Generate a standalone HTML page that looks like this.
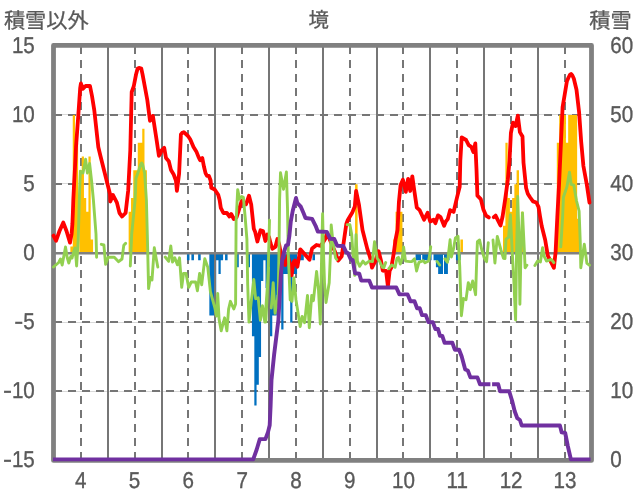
<!DOCTYPE html><html><head><meta charset="utf-8"><title>chart</title><style>html,body{margin:0;padding:0;background:#fff;overflow:hidden}svg{display:block;will-change:transform}text{text-rendering:geometricPrecision;stroke:#595959;stroke-width:0.35px;font-family:"Liberation Sans",sans-serif;font-size:22.9px;fill:#595959}</style></head><body>
<svg width="636" height="501" viewBox="0 0 636 501">
<rect width="636" height="501" fill="#fff"/>
<g shape-rendering="crispEdges"><rect x="54" y="114" width="537" height="1" fill="#d9d9d9"/><rect x="54" y="183" width="537" height="1" fill="#d9d9d9"/><rect x="54" y="322" width="537" height="1" fill="#d9d9d9"/><rect x="54" y="391" width="537" height="1" fill="#d9d9d9"/><path d="M80 46h2v8h-2zM80 60h2v8h-2zM80 74h2v8h-2zM80 88h2v8h-2zM80 102h2v8h-2zM80 116h2v8h-2zM80 130h2v8h-2zM80 144h2v8h-2zM80 158h2v8h-2zM80 172h2v8h-2zM80 186h2v8h-2zM80 200h2v8h-2zM80 214h2v8h-2zM80 228h2v8h-2zM80 242h2v8h-2zM80 256h2v8h-2zM80 270h2v8h-2zM80 284h2v8h-2zM80 298h2v8h-2zM80 312h2v8h-2zM80 326h2v8h-2zM80 340h2v8h-2zM80 354h2v8h-2zM80 368h2v8h-2zM80 382h2v8h-2zM80 396h2v8h-2zM80 410h2v8h-2zM80 424h2v8h-2zM80 438h2v8h-2zM80 452h2v6h-2zM134 46h2v8h-2zM134 60h2v8h-2zM134 74h2v8h-2zM134 88h2v8h-2zM134 102h2v8h-2zM134 116h2v8h-2zM134 130h2v8h-2zM134 144h2v8h-2zM134 158h2v8h-2zM134 172h2v8h-2zM134 186h2v8h-2zM134 200h2v8h-2zM134 214h2v8h-2zM134 228h2v8h-2zM134 242h2v8h-2zM134 256h2v8h-2zM134 270h2v8h-2zM134 284h2v8h-2zM134 298h2v8h-2zM134 312h2v8h-2zM134 326h2v8h-2zM134 340h2v8h-2zM134 354h2v8h-2zM134 368h2v8h-2zM134 382h2v8h-2zM134 396h2v8h-2zM134 410h2v8h-2zM134 424h2v8h-2zM134 438h2v8h-2zM134 452h2v6h-2zM187 46h2v8h-2zM187 60h2v8h-2zM187 74h2v8h-2zM187 88h2v8h-2zM187 102h2v8h-2zM187 116h2v8h-2zM187 130h2v8h-2zM187 144h2v8h-2zM187 158h2v8h-2zM187 172h2v8h-2zM187 186h2v8h-2zM187 200h2v8h-2zM187 214h2v8h-2zM187 228h2v8h-2zM187 242h2v8h-2zM187 256h2v8h-2zM187 270h2v8h-2zM187 284h2v8h-2zM187 298h2v8h-2zM187 312h2v8h-2zM187 326h2v8h-2zM187 340h2v8h-2zM187 354h2v8h-2zM187 368h2v8h-2zM187 382h2v8h-2zM187 396h2v8h-2zM187 410h2v8h-2zM187 424h2v8h-2zM187 438h2v8h-2zM187 452h2v6h-2zM241 46h2v8h-2zM241 60h2v8h-2zM241 74h2v8h-2zM241 88h2v8h-2zM241 102h2v8h-2zM241 116h2v8h-2zM241 130h2v8h-2zM241 144h2v8h-2zM241 158h2v8h-2zM241 172h2v8h-2zM241 186h2v8h-2zM241 200h2v8h-2zM241 214h2v8h-2zM241 228h2v8h-2zM241 242h2v8h-2zM241 256h2v8h-2zM241 270h2v8h-2zM241 284h2v8h-2zM241 298h2v8h-2zM241 312h2v8h-2zM241 326h2v8h-2zM241 340h2v8h-2zM241 354h2v8h-2zM241 368h2v8h-2zM241 382h2v8h-2zM241 396h2v8h-2zM241 410h2v8h-2zM241 424h2v8h-2zM241 438h2v8h-2zM241 452h2v6h-2zM295 46h2v8h-2zM295 60h2v8h-2zM295 74h2v8h-2zM295 88h2v8h-2zM295 102h2v8h-2zM295 116h2v8h-2zM295 130h2v8h-2zM295 144h2v8h-2zM295 158h2v8h-2zM295 172h2v8h-2zM295 186h2v8h-2zM295 200h2v8h-2zM295 214h2v8h-2zM295 228h2v8h-2zM295 242h2v8h-2zM295 256h2v8h-2zM295 270h2v8h-2zM295 284h2v8h-2zM295 298h2v8h-2zM295 312h2v8h-2zM295 326h2v8h-2zM295 340h2v8h-2zM295 354h2v8h-2zM295 368h2v8h-2zM295 382h2v8h-2zM295 396h2v8h-2zM295 410h2v8h-2zM295 424h2v8h-2zM295 438h2v8h-2zM295 452h2v6h-2zM349 46h2v8h-2zM349 60h2v8h-2zM349 74h2v8h-2zM349 88h2v8h-2zM349 102h2v8h-2zM349 116h2v8h-2zM349 130h2v8h-2zM349 144h2v8h-2zM349 158h2v8h-2zM349 172h2v8h-2zM349 186h2v8h-2zM349 200h2v8h-2zM349 214h2v8h-2zM349 228h2v8h-2zM349 242h2v8h-2zM349 256h2v8h-2zM349 270h2v8h-2zM349 284h2v8h-2zM349 298h2v8h-2zM349 312h2v8h-2zM349 326h2v8h-2zM349 340h2v8h-2zM349 354h2v8h-2zM349 368h2v8h-2zM349 382h2v8h-2zM349 396h2v8h-2zM349 410h2v8h-2zM349 424h2v8h-2zM349 438h2v8h-2zM349 452h2v6h-2zM402 46h2v8h-2zM402 60h2v8h-2zM402 74h2v8h-2zM402 88h2v8h-2zM402 102h2v8h-2zM402 116h2v8h-2zM402 130h2v8h-2zM402 144h2v8h-2zM402 158h2v8h-2zM402 172h2v8h-2zM402 186h2v8h-2zM402 200h2v8h-2zM402 214h2v8h-2zM402 228h2v8h-2zM402 242h2v8h-2zM402 256h2v8h-2zM402 270h2v8h-2zM402 284h2v8h-2zM402 298h2v8h-2zM402 312h2v8h-2zM402 326h2v8h-2zM402 340h2v8h-2zM402 354h2v8h-2zM402 368h2v8h-2zM402 382h2v8h-2zM402 396h2v8h-2zM402 410h2v8h-2zM402 424h2v8h-2zM402 438h2v8h-2zM402 452h2v6h-2zM456 46h2v8h-2zM456 60h2v8h-2zM456 74h2v8h-2zM456 88h2v8h-2zM456 102h2v8h-2zM456 116h2v8h-2zM456 130h2v8h-2zM456 144h2v8h-2zM456 158h2v8h-2zM456 172h2v8h-2zM456 186h2v8h-2zM456 200h2v8h-2zM456 214h2v8h-2zM456 228h2v8h-2zM456 242h2v8h-2zM456 256h2v8h-2zM456 270h2v8h-2zM456 284h2v8h-2zM456 298h2v8h-2zM456 312h2v8h-2zM456 326h2v8h-2zM456 340h2v8h-2zM456 354h2v8h-2zM456 368h2v8h-2zM456 382h2v8h-2zM456 396h2v8h-2zM456 410h2v8h-2zM456 424h2v8h-2zM456 438h2v8h-2zM456 452h2v6h-2zM510 46h2v8h-2zM510 60h2v8h-2zM510 74h2v8h-2zM510 88h2v8h-2zM510 102h2v8h-2zM510 116h2v8h-2zM510 130h2v8h-2zM510 144h2v8h-2zM510 158h2v8h-2zM510 172h2v8h-2zM510 186h2v8h-2zM510 200h2v8h-2zM510 214h2v8h-2zM510 228h2v8h-2zM510 242h2v8h-2zM510 256h2v8h-2zM510 270h2v8h-2zM510 284h2v8h-2zM510 298h2v8h-2zM510 312h2v8h-2zM510 326h2v8h-2zM510 340h2v8h-2zM510 354h2v8h-2zM510 368h2v8h-2zM510 382h2v8h-2zM510 396h2v8h-2zM510 410h2v8h-2zM510 424h2v8h-2zM510 438h2v8h-2zM510 452h2v6h-2zM564 46h2v8h-2zM564 60h2v8h-2zM564 74h2v8h-2zM564 88h2v8h-2zM564 102h2v8h-2zM564 116h2v8h-2zM564 130h2v8h-2zM564 144h2v8h-2zM564 158h2v8h-2zM564 172h2v8h-2zM564 186h2v8h-2zM564 200h2v8h-2zM564 214h2v8h-2zM564 228h2v8h-2zM564 242h2v8h-2zM564 256h2v8h-2zM564 270h2v8h-2zM564 284h2v8h-2zM564 298h2v8h-2zM564 312h2v8h-2zM564 326h2v8h-2zM564 340h2v8h-2zM564 354h2v8h-2zM564 368h2v8h-2zM564 382h2v8h-2zM564 396h2v8h-2zM564 410h2v8h-2zM564 424h2v8h-2zM564 438h2v8h-2zM564 452h2v6h-2zM54 114h8v2h-8zM68 114h8v2h-8zM82 114h8v2h-8zM96 114h8v2h-8zM110 114h8v2h-8zM124 114h8v2h-8zM138 114h8v2h-8zM152 114h8v2h-8zM166 114h8v2h-8zM180 114h8v2h-8zM194 114h8v2h-8zM208 114h8v2h-8zM222 114h8v2h-8zM236 114h8v2h-8zM250 114h8v2h-8zM264 114h8v2h-8zM278 114h8v2h-8zM292 114h8v2h-8zM306 114h8v2h-8zM320 114h8v2h-8zM334 114h8v2h-8zM348 114h8v2h-8zM362 114h8v2h-8zM376 114h8v2h-8zM390 114h8v2h-8zM404 114h8v2h-8zM418 114h8v2h-8zM432 114h8v2h-8zM446 114h8v2h-8zM460 114h8v2h-8zM474 114h8v2h-8zM488 114h8v2h-8zM502 114h8v2h-8zM516 114h8v2h-8zM530 114h8v2h-8zM544 114h8v2h-8zM558 114h8v2h-8zM572 114h8v2h-8zM586 114h4v2h-4zM54 183h8v2h-8zM68 183h8v2h-8zM82 183h8v2h-8zM96 183h8v2h-8zM110 183h8v2h-8zM124 183h8v2h-8zM138 183h8v2h-8zM152 183h8v2h-8zM166 183h8v2h-8zM180 183h8v2h-8zM194 183h8v2h-8zM208 183h8v2h-8zM222 183h8v2h-8zM236 183h8v2h-8zM250 183h8v2h-8zM264 183h8v2h-8zM278 183h8v2h-8zM292 183h8v2h-8zM306 183h8v2h-8zM320 183h8v2h-8zM334 183h8v2h-8zM348 183h8v2h-8zM362 183h8v2h-8zM376 183h8v2h-8zM390 183h8v2h-8zM404 183h8v2h-8zM418 183h8v2h-8zM432 183h8v2h-8zM446 183h8v2h-8zM460 183h8v2h-8zM474 183h8v2h-8zM488 183h8v2h-8zM502 183h8v2h-8zM516 183h8v2h-8zM530 183h8v2h-8zM544 183h8v2h-8zM558 183h8v2h-8zM572 183h8v2h-8zM586 183h4v2h-4zM54 321h8v2h-8zM68 321h8v2h-8zM82 321h8v2h-8zM96 321h8v2h-8zM110 321h8v2h-8zM124 321h8v2h-8zM138 321h8v2h-8zM152 321h8v2h-8zM166 321h8v2h-8zM180 321h8v2h-8zM194 321h8v2h-8zM208 321h8v2h-8zM222 321h8v2h-8zM236 321h8v2h-8zM250 321h8v2h-8zM264 321h8v2h-8zM278 321h8v2h-8zM292 321h8v2h-8zM306 321h8v2h-8zM320 321h8v2h-8zM334 321h8v2h-8zM348 321h8v2h-8zM362 321h8v2h-8zM376 321h8v2h-8zM390 321h8v2h-8zM404 321h8v2h-8zM418 321h8v2h-8zM432 321h8v2h-8zM446 321h8v2h-8zM460 321h8v2h-8zM474 321h8v2h-8zM488 321h8v2h-8zM502 321h8v2h-8zM516 321h8v2h-8zM530 321h8v2h-8zM544 321h8v2h-8zM558 321h8v2h-8zM572 321h8v2h-8zM586 321h4v2h-4zM54 390h8v2h-8zM68 390h8v2h-8zM82 390h8v2h-8zM96 390h8v2h-8zM110 390h8v2h-8zM124 390h8v2h-8zM138 390h8v2h-8zM152 390h8v2h-8zM166 390h8v2h-8zM180 390h8v2h-8zM194 390h8v2h-8zM208 390h8v2h-8zM222 390h8v2h-8zM236 390h8v2h-8zM250 390h8v2h-8zM264 390h8v2h-8zM278 390h8v2h-8zM292 390h8v2h-8zM306 390h8v2h-8zM320 390h8v2h-8zM334 390h8v2h-8zM348 390h8v2h-8zM362 390h8v2h-8zM376 390h8v2h-8zM390 390h8v2h-8zM404 390h8v2h-8zM418 390h8v2h-8zM432 390h8v2h-8zM446 390h8v2h-8zM460 390h8v2h-8zM474 390h8v2h-8zM488 390h8v2h-8zM502 390h8v2h-8zM516 390h8v2h-8zM530 390h8v2h-8zM544 390h8v2h-8zM558 390h8v2h-8zM572 390h8v2h-8zM586 390h4v2h-4z" fill="#767676"/></g>
<path d="M70.36 253.30V246.38H72.75V114.97H75.00V142.63H77.39V253.30ZM79.33 253.30V170.30H81.72V156.47H83.96V197.97H86.20V211.80H88.45V156.47H90.69V239.47H93.08V253.30ZM128.65 253.30V211.80H131.04V197.97H133.28V170.30H135.52V170.30H137.76V142.63H140.01V142.63H142.25V128.80H144.49V170.30H146.88V253.30ZM355.06 253.30V184.13H357.60V253.30ZM393.17 253.30V239.47H395.56V211.80H397.80V211.80H400.04V211.80H402.43V253.30ZM460.42 253.30V239.47H462.96V253.30ZM503.01 253.30V225.63H505.40V142.63H507.64V197.97H509.89V211.80H512.13V197.97H514.37V184.13H516.61V170.30H519.00V253.30ZM520.94 253.30V211.80H523.49V253.30ZM556.81 253.30V142.63H559.20V114.97H561.45V114.97H563.69V114.97H565.93V142.63H568.17V114.97H570.41V114.97H572.65V114.97H574.90V114.97H577.14V218.72H579.53V253.30Z" fill="#ffc000"/>
<path d="M186.93 253.30V260.22H189.47V253.30ZM191.41 253.30V260.22H193.96V253.30ZM198.14 253.30V260.22H200.68V253.30ZM209.35 253.30V315.55H211.74V315.55H213.98V315.55H216.22V260.22H218.46V274.05H220.71V260.22H223.10V253.30ZM225.04 253.30V260.22H227.58V253.30ZM236.25 253.30V267.13H238.79V253.30ZM247.46 253.30V267.13H250.00V253.30ZM251.94 253.30V336.30H254.33V405.47H256.57V384.72H258.82V357.05H261.06V280.97H263.30V260.22H265.54V287.88H267.78V287.88H270.02V336.30H272.27V315.55H274.51V315.55H276.75V294.80H278.99V274.05H281.23V329.38H283.47V274.05H285.72V274.05H287.96V274.05H290.20V322.47H292.44V274.05H294.68V274.05H297.07V253.30ZM299.02 253.30V260.22H301.41V260.22H303.80V253.30ZM312.47 253.30V260.22H315.01V253.30ZM415.58 253.30V260.22H417.98V260.22H420.22V260.22H422.46V260.22H424.70V260.22H426.94V260.22H429.18V260.22H431.58V253.30ZM433.52 253.30V260.22H435.91V267.13H438.15V274.05H440.39V274.05H442.63V274.05H444.88V274.05H447.12V260.22H449.51V253.30ZM455.94 253.30V260.22H458.33V260.22H460.72V253.30Z" fill="#0070c0"/>
<rect x="77.0" y="143.0" width="1.1" height="110.3" fill="#ffc000"/>
<rect x="446.4" y="253.3" width="1.5" height="20.7" fill="#0070c0"/>
<rect x="443.0" y="254.8" width="1.0" height="19.7" fill="#fff"/>
<rect x="224.0" y="254.8" width="1.0" height="5.7" fill="#fff"/>
<rect x="421.0" y="254.8" width="1.2" height="6.0" fill="#fff"/>
<path d="M107 47h2v411h-2zM161 47h2v411h-2zM214 47h2v411h-2zM268 47h2v411h-2zM322 47h2v411h-2zM376 47h2v411h-2zM429 47h2v411h-2zM483 47h2v411h-2zM537 47h2v411h-2z" fill="#767676" shape-rendering="crispEdges"/>
<line x1="53.5" y1="253.3" x2="591.5" y2="253.3" stroke="#808080" stroke-width="2.5"/>
<rect x="53.5" y="45.4" width="538.0" height="415.0" fill="none" stroke="#808080" stroke-width="4.8" stroke-linejoin="round"/>
<path d="M53.5 235.6 L56.0 240.8 L59.5 231.0 L63.3 222.6 L66.5 231.0 L70.0 242.6 L71.6 234.0 L72.4 224.0 L72.9 212.0 L73.3 200.0 L74.2 182.0 L75.4 160.0 L76.0 147.0 L78.3 115.3 L80.2 88.0 L80.9 83.5 L83.0 88.7 L85.6 86.0 L90.0 86.0 L92.0 96.0 L94.3 110.4 L98.3 147.0 L100.4 155.7 L105.6 176.5 L110.0 194.0 L110.3 201.5 L113.0 195.0 L116.9 202.6 L119.5 213.0 L122.1 216.5 L125.6 213.0 L128.2 190.4 L130.3 150.0 L131.7 92.0 L133.7 86.5 L136.1 74.2 L137.6 68.6 L139.5 67.9 L141.3 68.6 L142.5 74.2 L144.9 87.0 L147.3 100.0 L150.0 120.8 L152.9 116.0 L156.9 142.0 L158.9 155.8 L160.3 153.5 L161.6 150.3 L164.2 147.8 L166.0 158.0 L168.8 161.3 L171.0 170.1 L173.7 174.5 L175.9 180.5 L176.9 190.8 L179.1 173.8 L180.9 134.5 L182.2 132.8 L183.8 132.2 L188.0 136.0 L190.2 139.3 L193.5 147.0 L196.3 151.4 L198.5 156.9 L200.1 160.2 L202.3 158.0 L204.0 166.8 L205.6 173.4 L207.0 175.8 L208.9 175.8 L210.6 180.5 L211.3 187.7 L214.7 189.5 L218.2 194.7 L219.6 199.9 L220.8 207.9 L223.4 213.0 L226.9 213.0 L229.5 216.5 L231.2 214.0 L233.8 219.0 L236.5 217.4 L239.0 209.6 L241.7 200.9 L246.0 204.4 L249.0 195.7 L251.2 204.4 L253.8 228.7 L255.2 232.0 L257.4 241.5 L260.5 230.3 L263.0 231.0 L265.4 241.0 L267.4 234.5 L269.0 237.0 L270.6 243.5 L272.5 248.8 L275.3 246.9 L277.4 239.0 L279.1 244.0 L281.7 258.0 L285.2 265.0 L287.8 256.3 L290.4 266.7 L291.6 275.4 L293.4 262.4 L294.8 260.6 L297.4 266.7 L300.3 249.3 L303.4 252.8 L309.5 259.8 L312.1 248.5 L316.5 245.0 L320.8 245.9 L325.2 238.9 L326.9 233.7 L329.5 238.9 L334.7 251.0 L338.2 260.6 L341.7 256.3 L343.6 243.0 L346.3 224.0 L347.8 220.0 L352.3 212.5 L354.8 206.5 L356.1 191.0 L359.0 205.0 L362.5 230.0 L367.3 248.9 L370.1 257.4 L372.0 267.7 L375.3 261.1 L378.6 251.2 L380.9 260.2 L382.8 270.6 L386.1 271.0 L387.9 286.3 L389.6 271.0 L391.3 267.7 L393.7 253.6 L395.6 239.4 L397.5 230.0 L398.9 202.3 L400.6 185.0 L402.9 179.8 L405.8 191.9 L408.1 178.9 L410.2 191.0 L412.3 176.3 L414.5 191.9 L416.8 207.6 L419.7 210.2 L424.1 219.7 L427.6 212.8 L430.2 221.5 L433.6 219.7 L435.4 223.2 L438.0 215.4 L440.6 217.1 L444.1 225.8 L445.8 221.5 L447.8 219.1 L450.1 210.2 L453.6 211.9 L457.1 197.1 L459.7 186.7 L460.3 160.8 L461.7 137.4 L466.1 140.0 L468.7 145.2 L471.3 146.9 L473.4 152.1 L475.3 143.4 L476.5 169.5 L477.4 195.6 L480.8 199.1 L483.4 209.5 L486.0 215.6 L488.8 217.4 M493.8 217.2 L495.6 215.6 L498.2 220.8 L500.5 225.5 L502.6 216.5 L505.2 199.1 L507.8 180.0 L509.5 160.8 L510.9 133.0 L513.0 122.6 L515.6 126.0 L517.8 115.6 L519.9 132.1 L522.5 136.5 L523.5 162.6 L526.1 188.0 L527.8 193.7 L530.2 197.5 L533.0 201.4 L536.3 202.5 L538.5 206.9 L540.1 216.8 L541.7 226.0 L545.2 240.0 L547.8 255.6 L551.3 262.6 L553.9 267.8 L555.6 252.1 L557.3 217.4 L559.1 183.4 L561.0 141.9 L562.6 107.1 L564.8 94.0 L566.9 81.2 L568.3 78.0 L569.8 75.0 L571.1 73.9 L572.4 75.5 L573.8 78.5 L576.5 89.8 L579.1 112.3 L581.2 141.9 L583.4 166.0 L586.9 185.2 L589.5 202.6" fill="none" stroke="#ff0000" stroke-width="3.8" stroke-linejoin="round" stroke-linecap="round"/>
<path d="M53.5 267.0 L58.7 262.5 L60.5 259.0 L62.2 265.0 L65.5 247.0 L67.2 257.5 L68.8 263.0 L70.8 256.5 L72.0 258.0 L73.5 252.5 L74.9 248.0 L76.0 258.0 L76.6 266.0 L78.2 240.0 L79.0 212.0 L79.6 190.0 L80.4 171.3 L83.0 173.0 L85.6 159.2 L87.4 173.0 L89.6 163.5 L91.7 181.8 L93.4 200.0 L96.0 234.0 L96.6 257.3 M101.3 244.3 L103.9 245.0 L105.6 264.3 L108.2 257.3 L114.3 257.3 L118.6 261.7 L122.0 259.0 L123.8 245.2 L125.6 243.4 M130.3 266.0 L131.7 234.0 L135.1 200.0 L136.0 178.3 L138.5 171.2 L140.7 164.3 L141.7 163.0 L142.6 164.5 L144.6 173.1 L145.2 181.8 L146.4 200.0 L147.3 234.0 L148.6 288.6 L150.3 277.4 L152.0 280.0 L154.3 247.8 L156.0 257.4 L157.8 267.0 M165.2 257.0 L168.7 261.3 L170.8 246.0 L172.5 262.0 L174.8 257.8 L177.4 264.8 L179.5 257.8 L181.7 287.4 L183.5 273.5 L186.0 273.5 L188.7 287.4 L191.3 282.0 L195.6 282.0 L197.4 290.8 L199.6 273.5 L201.7 284.8 L204.8 258.7 L207.8 267.4 L210.4 291.7 L214.7 307.3 L216.5 316.0 L217.7 293.4 L219.1 319.5 L221.2 330.8 L224.6 317.8 L226.9 330.8 L228.6 309.0 L230.4 301.3 L233.8 309.0 L235.6 303.9 L236.1 221.8 L237.7 189.6 L239.6 199.2 L241.7 196.6 L243.4 197.4 L245.1 216.5 L246.9 239.1 L247.7 284.8 L249.0 322.1 L251.2 302.0 L253.8 279.5 L255.6 298.7 L258.2 297.8 L260.4 320.4 L262.5 305.6 L264.8 322.0 L266.9 293.4 L268.6 267.4 L265.8 322.0 L267.3 293.0 L268.3 267.0 L269.5 220.2 M271.3 308.0 L273.2 282.7 L275.1 313.3 L278.2 295.0 L279.1 245.0 L279.6 199.8 L280.5 172.8 L283.5 189.3 L286.4 172.0 L287.5 208.4 L288.3 255.0 L290.2 300.0 L291.2 296.0 L292.0 301.3 L293.9 277.7 L296.0 300.0 L300.2 326.5 L302.1 316.4 L304.6 322.7 L307.5 295.5 L309.3 327.7 L311.7 295.5 L313.4 300.7 L316.6 271.4 L318.5 290.0 L320.3 324.0 L321.7 252.0 L322.6 213.7 L323.5 252.0 L324.5 283.0 L326.0 302.6 L329.2 282.7 L330.5 252.0 L331.2 225.0 L333.0 242.4 L335.6 258.0 L336.7 259.5 M347.2 224.6 L349.9 224.8 L351.7 234.5 L353.5 262.0 L354.7 275.4 L356.0 234.7 L357.4 261.1 L359.7 266.3 L363.0 261.1 L365.4 264.0 L369.2 261.1 L372.5 261.6 L374.5 241.8 L377.2 258.3 L379.5 261.1 L382.4 267.3 L383.8 267.7 L385.7 262.5 M388.8 268.7 L391.8 264.9 L395.1 267.3 L397.0 258.3 L398.4 257.4 L400.3 264.0 L402.2 258.3 L403.6 247.0 L405.5 261.1 L409.7 261.6 L411.9 261.5 L414.5 258.9 L416.6 271.0 L418.9 262.3 L423.2 260.6 L425.0 262.8 L428.6 261.0 L429.8 254.0 L430.7 246.7 M437.1 261.5 L439.7 265.0 M444.9 258.9 L447.5 262.3 L450.1 239.8 L451.4 257.0 L453.6 248.4 L455.4 238.0 L458.0 236.3 L459.7 265.8 L460.6 291.9 L461.4 315.7 L463.4 298.5 L466.0 299.7 L468.3 282.6 L470.3 289.7 L472.7 281.0 L475.6 294.7 L476.8 257.4 L477.4 241.7 L479.6 240.0 L481.7 249.5 L484.3 258.2 L486.6 261.7 L488.3 242.6 M493.0 240.0 L494.9 263.0 L497.3 236.5 L500.8 249.5 L503.4 258.2 L505.0 258.5 L506.0 239.1 L508.6 237.3 L510.4 214.8 L512.1 249.5 L513.8 280.0 L515.6 320.0 L516.6 250.0 L517.7 196.5 L519.0 237.0 L519.9 304.3 L521.0 250.0 L522.5 213.0 L524.3 249.5 L525.1 267.8 L526.9 265.2 M534.9 265.6 L537.6 261.0 L540.4 262.0 L542.6 247.8 L544.3 256.6 L546.5 261.0 L551.4 259.4 L553.8 262.7 M560.8 246.9 L562.6 217.4 L563.4 197.3 L566.9 186.9 L569.5 172.1 L571.2 184.3 L573.8 185.2 L576.5 200.8 L579.1 211.0 L580.3 243.4 L580.8 267.8 L584.3 244.3 L586.9 263.4 L589.5 265.2" fill="none" stroke="#92d050" stroke-width="2.9" stroke-linejoin="round" stroke-linecap="round"/>
<path d="M53.0 459.4 L253.2 459.4 L256.7 449.5 L259.8 439.1 L265.4 439.1 L268.0 432.1 L269.7 425.2 L270.6 406.0 L271.5 380.0 L274.1 354.8 L278.4 320.0 L281.0 272.6 L282.4 259.0 L284.3 251.0 L286.1 245.3 L288.0 244.6 L289.4 235.6 L290.8 221.4 L292.7 211.0 L296.0 198.0 L297.4 203.2 L300.8 206.7 L303.4 212.8 L305.5 218.0 L312.1 218.9 L315.6 225.8 L317.8 231.5 L326.8 231.9 L330.3 238.8 L334.3 239.0 L337.2 245.7 L343.3 246.0 L346.4 252.6 L348.0 253.2 L350.8 259.4 L352.7 260.0 L355.1 273.3 L359.3 273.8 L361.2 280.6 L369.3 280.6 L372.0 287.5 L396.3 287.5 L399.4 294.4 L407.6 294.4 L410.5 301.3 L414.5 301.3 L417.1 308.2 L419.7 308.2 L422.0 315.1 L425.8 315.1 L428.4 322.1 L432.8 322.1 L435.4 329.0 L438.0 329.0 L440.0 335.9 L442.3 335.9 L444.6 342.8 L452.4 342.8 L454.8 349.7 L459.1 349.7 L461.7 356.5 L465.2 369.5 L467.8 370.5 L470.4 377.4 L477.4 377.4 L480.0 384.3 L490.4 384.3 M492.1 384.3 L498.2 384.3 L500.0 391.2 L509.2 391.2 L512.1 400.8 L514.7 411.2 L517.3 418.2 L519.9 420.0 L521.7 425.5 L559.9 425.5 L561.7 432.4 L565.2 433.0 L567.8 446.0 L570.9 459.4 L590.6 459.4" fill="none" stroke="#7030a0" stroke-width="3.9" stroke-linejoin="round" stroke-linecap="butt"/>
<text transform="translate(34.8 52.5) scale(0.9 1)" text-anchor="end">15</text>
<text transform="translate(34.8 121.5) scale(0.9 1)" text-anchor="end">10</text>
<text transform="translate(34.8 190.5) scale(0.9 1)" text-anchor="end">5</text>
<text transform="translate(34.8 259.5) scale(0.9 1)" text-anchor="end">0</text>
<text transform="translate(34.8 328.5) scale(0.9 1)" text-anchor="end"><tspan textLength="10" lengthAdjust="spacingAndGlyphs">-</tspan>5</text>
<text transform="translate(34.8 397.5) scale(0.9 1)" text-anchor="end"><tspan textLength="10" lengthAdjust="spacingAndGlyphs">-</tspan>10</text>
<text transform="translate(34.8 466.5) scale(0.9 1)" text-anchor="end"><tspan textLength="10" lengthAdjust="spacingAndGlyphs">-</tspan>15</text>
<text transform="translate(610.2 52.5) scale(0.9 1)" text-anchor="start">60</text>
<text transform="translate(610.2 121.5) scale(0.9 1)" text-anchor="start">50</text>
<text transform="translate(610.2 190.5) scale(0.9 1)" text-anchor="start">40</text>
<text transform="translate(610.2 259.5) scale(0.9 1)" text-anchor="start">30</text>
<text transform="translate(610.2 328.5) scale(0.9 1)" text-anchor="start">20</text>
<text transform="translate(610.2 397.5) scale(0.9 1)" text-anchor="start">10</text>
<text transform="translate(610.2 466.5) scale(0.9 1)" text-anchor="start">0</text>
<text transform="translate(80.7 487.9) scale(0.9 1)" text-anchor="middle">4</text>
<text transform="translate(134.5 487.9) scale(0.9 1)" text-anchor="middle">5</text>
<text transform="translate(188.3 487.9) scale(0.9 1)" text-anchor="middle">6</text>
<text transform="translate(242.1 487.9) scale(0.9 1)" text-anchor="middle">7</text>
<text transform="translate(295.9 487.9) scale(0.9 1)" text-anchor="middle">8</text>
<text transform="translate(349.7 487.9) scale(0.9 1)" text-anchor="middle">9</text>
<text transform="translate(403.5 487.9) scale(0.9 1)" text-anchor="middle">10</text>
<text transform="translate(457.3 487.9) scale(0.9 1)" text-anchor="middle">11</text>
<text transform="translate(511.1 487.9) scale(0.9 1)" text-anchor="middle">12</text>
<text transform="translate(564.9 487.9) scale(0.9 1)" text-anchor="middle">13</text>
<text x="3.9" y="28.4" text-anchor="start" style="font-family:'Liberation Sans','Noto Sans CJK JP',sans-serif;font-size:21.2px;stroke-width:0.3px">積雪以外</text>
<text x="589.2" y="28.4" text-anchor="start" style="font-family:'Liberation Sans','Noto Sans CJK JP',sans-serif;font-size:21.2px;stroke-width:0.3px">積雪</text>
<text x="308.6" y="26.9" text-anchor="start" style="font-family:'Liberation Sans','Noto Sans CJK JP',sans-serif;font-size:20.4px;stroke-width:0.3px">境</text>
</svg></body></html>
